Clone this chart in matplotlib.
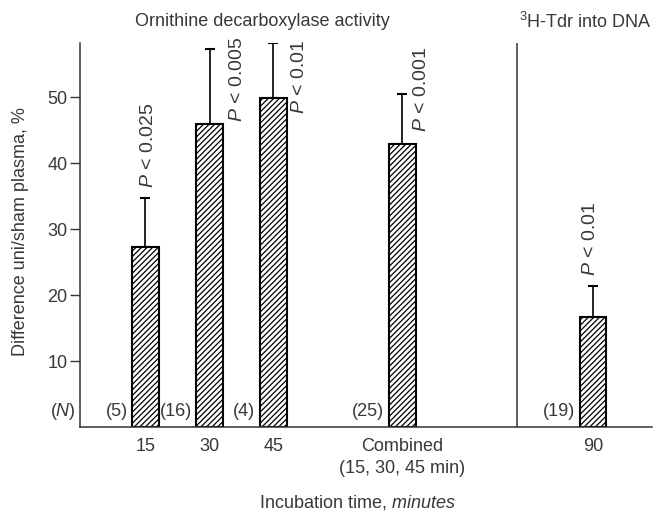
import matplotlib
matplotlib.use("Agg")
import matplotlib.pyplot as plt

plt.rcParams['font.family'] = ['Liberation Sans', 'DejaVu Sans']
plt.rcParams['mathtext.fontset'] = 'custom'
plt.rcParams['mathtext.rm'] = 'Liberation Sans'
plt.rcParams['mathtext.it'] = 'Liberation Sans:italic'
plt.rcParams['mathtext.bf'] = 'Liberation Sans:bold'
plt.rcParams['hatch.linewidth'] = 0.9

# ---- data ----
categories = ["15", "30", "45", "Combined\n(15, 30, 45 min)", "90"]
values = [27.3, 45.9, 49.8, 42.9, 16.7]
err_upper = [7.4, 11.4, 8.4, 7.5, 4.7]
n_labels = ["(5)", "(16)", "(4)", "(25)", "(19)"]
p_labels = ["0.025", "0.005", "0.01", "0.001", "0.01"]
y_ticks = [10, 20, 30, 40, 50]
section_titles = ["Ornithine decarboxylase activity", r"$^{3}$H-Tdr into DNA"]

# ---- layout ----
positions = [1.03, 2.04, 3.04, 5.07, 8.07]
bar_width = 0.42
divider_x = 6.88
p_offsets = [(0.05, None), (0.44, 0.4), (0.42, -2.3), (0.3, 1.8), (-0.03, None)]

FS = 13
TXT = "#383838"
W, H = 660, 514
fig = plt.figure(figsize=(W / 100, H / 100), dpi=100)
ax = fig.add_axes([80 / W, (H - 427) / H, 572 / W, (427 - 43) / H])

ax.bar(positions, values, width=bar_width, color="white", edgecolor="black",
       hatch="//////", linewidth=1.5, zorder=2)
ax.errorbar(positions, values, yerr=[[0] * len(values), err_upper], fmt="none",
            ecolor="black", elinewidth=1.2, capsize=3.5, capthick=1.5, zorder=1)

ax.set_xlim(0, 9)
ax.set_ylim(0, 58.2)
ax.set_yticks(y_ticks)
ax.set_yticklabels([str(t) for t in y_ticks], fontsize=FS, color=TXT)
ax.tick_params(axis='y', direction='out', length=7, width=1, color="#333333", pad=2)
ax.set_xticks(positions)
ax.set_xticklabels(categories, fontsize=FS, color=TXT, linespacing=1.35)
ax.tick_params(axis='x', length=0, pad=8)

for s in ["top", "right"]:
    ax.spines[s].set_visible(False)
for s in ["left", "bottom"]:
    ax.spines[s].set_linewidth(1.1)
    ax.spines[s].set_color("#333333")

ax.axvline(divider_x, color="#333333", linewidth=1.1)

# N labels
for x, lab in zip(positions, n_labels):
    ax.text(x - bar_width / 2 - 0.07, 2.4, lab, ha="right", va="center",
            fontsize=FS, color=TXT)
ax.text(-0.27, 2.4, r"($\mathit{N}$)", ha="center", va="center",
        fontsize=FS, color=TXT)

# P labels
for x, v, e, p, (dx, dy) in zip(positions, values, err_upper, p_labels, p_offsets):
    y = v + e + 1.5 if dy is None else v + dy
    ax.text(x + dx, y, r"$\mathit{P}$ < " + p, rotation=90, ha="center", va="bottom",
            fontsize=14, color=TXT)

# section titles
fig.text(262 / W, 1 - 22 / H, section_titles[0], ha="center", va="center",
         fontsize=FS, color=TXT)
fig.text(585 / W, 1 - 22 / H, section_titles[1], ha="center", va="center",
         fontsize=FS, color=TXT)

# axis labels
fig.text(357 / W, 1 - 503 / H, r"Incubation time, $\mathit{minutes}$", ha="center",
         va="center", fontsize=FS, color=TXT)
fig.text(21 / W, 1 - 232 / H, "Difference uni/sham plasma, %", rotation=90,
         ha="center", va="center", fontsize=FS, color=TXT)

fig.savefig("out.png", dpi=100)
